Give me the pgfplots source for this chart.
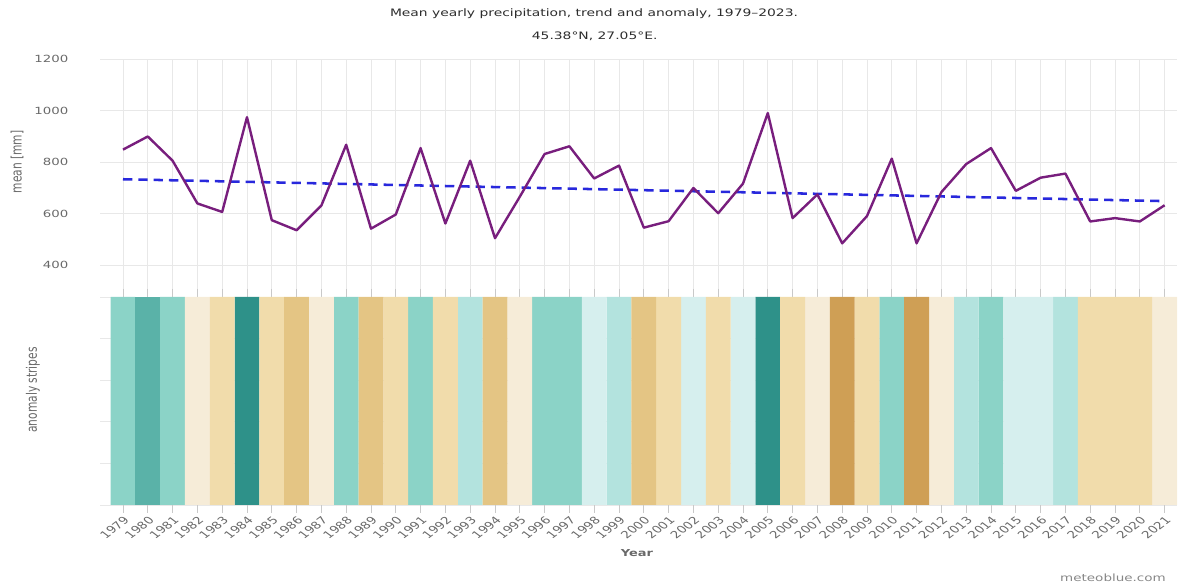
\documentclass[border=0pt]{standalone}
\usepackage{pgfplots}
\pgfplotsset{compat=1.18}
\usepackage{fontspec}
\setmainfont{DejaVu Sans}

% palette
\definecolor{linec}{RGB}{120,30,125}
\definecolor{trendc}{RGB}{40,40,220}
\definecolor{gridc}{RGB}{232,232,232}
\definecolor{tickc}{RGB}{105,105,105}
\definecolor{titlec}{RGB}{45,45,45}
\definecolor{dkteal}{HTML}{2E9189}
\definecolor{medteal}{HTML}{5AB2A8}
\definecolor{ltteal}{HTML}{8BD3C7}
\definecolor{lrteal}{HTML}{B3E3DE}
\definecolor{vlteal}{HTML}{D6EFEE}
\definecolor{cream}{HTML}{F6ECD8}
\definecolor{lttan}{HTML}{F1DCAB}
\definecolor{medtan}{HTML}{E4C584}
\definecolor{dktan}{HTML}{CF9F55}

\pgfplotstableread{
year mean
1979 848
1980 899
1981 805
1982 639
1983 606
1984 974
1985 574
1986 535
1987 631
1988 867
1989 541
1990 596
1991 854
1992 561
1993 805
1994 504
1995 665
1996 831
1997 861
1998 736
1999 786
2000 545
2001 570
2002 699
2003 601
2004 716
2005 990
2006 582
2007 674
2008 484
2009 590
2010 813
2011 484
2012 683
2013 792
2014 854
2015 688
2016 739
2017 755
2018 569
2019 582
2020 569
2021 632
}\precip

% the source image is stretched sideways, so text is widened to match
\newcommand{\wide}[1]{\scalebox{1.35}[1]{#1}}

\begin{document}
\begin{tikzpicture}
\path[use as bounding box] (0,0) rectangle (886.5pt,441pt);

% line chart
\begin{axis}[
  at={(75pt,220.05pt)}, anchor=south west,
  scale only axis, width=807.75pt, height=176.7pt,
  xmin=1978.073, xmax=2021.5, ymin=285, ymax=1200,
  xtick={1979,...,2021}, xticklabels={},
  ytick={400,600,...,1200},
  grid=major, major grid style={gridc, line width=0.6pt},
  axis line style={draw=none}, major tick length=0pt,
  yticklabel style={font=\fontsize{7.4}{9}\selectfont, text=tickc,
    anchor=east, xshift=-19pt, xscale=1.35},
  /pgf/number format/assume math mode=true,
  /pgf/number format/1000 sep={},
  clip=false,
]
  \addplot[trendc, line width=1.9pt, dash pattern=on 7pt off 4.5pt] coordinates {(1979,733) (2021,648)};
  \addplot[linec, line width=1.8pt, line join=round] table[x=year, y=mean] {\precip};
\end{axis}

% anomaly stripes
\begin{axis}[
  at={(75pt,62.25pt)}, anchor=south west,
  scale only axis, width=807.75pt, height=156pt,
  xmin=1978.073, xmax=2021.5, ymin=0, ymax=5,
  xtick={1979,...,2021}, ytick={0,...,5}, yticklabels={},
  ymajorgrids, major grid style={gridc, line width=0.6pt},
  axis line style={draw=none},
  xtick style={draw=gridc!70!gray, line width=0.5pt}, ytick style={draw=none},
  tick align=outside, major tick length=6pt,
  xticklabel style={xscale=1.35, rotate=45, anchor=north east, inner sep=1.5pt,
    font=\fontsize{7.5}{9}\selectfont, text=tickc},
  /pgf/number format/assume math mode=true,
  /pgf/number format/1000 sep={},
]
  \addplot[ybar, bar width=1, bar shift=0pt, fill=ltteal, draw=none] coordinates
    {(1979,5) (1981,5) (1988,5) (1991,5) (1996,5) (1997,5) (2010,5) (2014,5)};
  \addplot[ybar, bar width=1, bar shift=0pt, fill=medteal, draw=none] coordinates
    {(1980,5)};
  \addplot[ybar, bar width=1, bar shift=0pt, fill=dkteal, draw=none] coordinates
    {(1984,5) (2005,5)};
  \addplot[ybar, bar width=1, bar shift=0pt, fill=lrteal, draw=none] coordinates
    {(1993,5) (1999,5) (2013,5) (2017,5)};
  \addplot[ybar, bar width=1, bar shift=0pt, fill=vlteal, draw=none] coordinates
    {(1998,5) (2002,5) (2004,5) (2015,5) (2016,5)};
  \addplot[ybar, bar width=1, bar shift=0pt, fill=cream, draw=none] coordinates
    {(1982,5) (1987,5) (1995,5) (2007,5) (2012,5) (2021,5)};
  \addplot[ybar, bar width=1, bar shift=0pt, fill=lttan, draw=none] coordinates
    {(1983,5) (1985,5) (1990,5) (1992,5) (2001,5) (2003,5) (2006,5) (2009,5) (2018,5) (2019,5) (2020,5)};
  \addplot[ybar, bar width=1, bar shift=0pt, fill=medtan, draw=none] coordinates
    {(1986,5) (1989,5) (1994,5) (2000,5)};
  \addplot[ybar, bar width=1, bar shift=0pt, fill=dktan, draw=none] coordinates
    {(2008,5) (2011,5)};
\end{axis}

% titles and labels
\node[font=\fontsize{7.7}{9}\selectfont, text=titlec] at (445.5pt,430.5pt)
  {\wide{Mean yearly precipitation, trend and anomaly, 1979–2023.}};
\node[font=\fontsize{7.7}{9}\selectfont, text=titlec] at (446pt,414pt)
  {\wide{45.38°N, 27.05°E.}};
\node[rotate=90, font=\fontsize{8}{9}\selectfont, text=tickc] at (12.75pt,319.5pt)
  {\scalebox{1}[1.35]{mean [mm]}};
\node[rotate=90, font=\fontsize{8}{9}\selectfont, text=tickc] at (24.75pt,148.5pt)
  {\scalebox{1}[1.35]{anomaly stripes}};
\node[font=\fontsize{7.2}{9}\selectfont\bfseries, text=tickc] at (477.75pt,26.25pt) {\wide{Year}};
\node[font=\fontsize{7.5}{9}\selectfont, text=tickc!80] at (834.75pt,7.5pt) {\wide{meteoblue.com}};
\end{tikzpicture}
\end{document}
